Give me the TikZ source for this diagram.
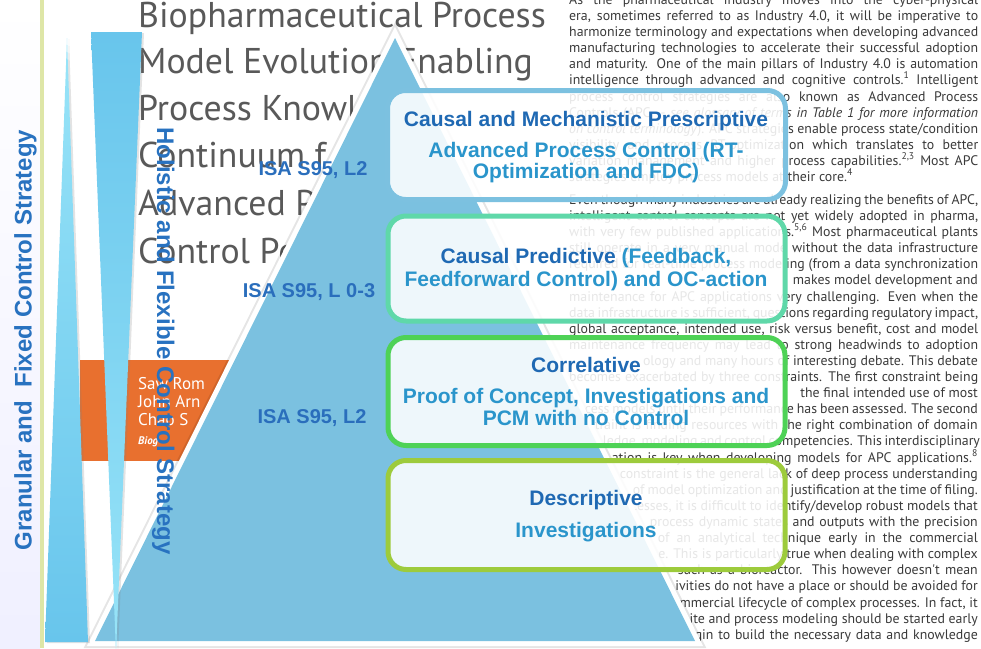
\documentclass[tikz,border=0pt]{standalone}
\usepackage{fontspec}
\setmainfont{Liberation Sans}
\newfontfamily\bodyfont{PT Sans}
\newfontfamily\titlefont{PT Sans}
\usetikzlibrary{shadows}
\definecolor{triblue}{HTML}{7BC1E0}
\definecolor{darkblue}{HTML}{1F69B3}
\definecolor{lightblue}{HTML}{2A95CB}
\definecolor{isablue}{HTML}{2A6EBC}
\definecolor{stratblue}{HTML}{2872C0}
\definecolor{prescline}{HTML}{7CC1E0}
\definecolor{predline}{HTML}{5FD8A9}
\definecolor{corrline}{HTML}{4ED256}
\definecolor{descline}{HTML}{9DCB3C}
\definecolor{bandorange}{HTML}{E8702F}
\definecolor{titlegray}{HTML}{595959}
\definecolor{textgray}{HTML}{3A3A3A}
\definecolor{leafline}{HTML}{DEE6A7}
\definecolor{palecyan}{HTML}{98E4F8}
\definecolor{midcyan}{HTML}{68C5EC}
\tikzset{levelbox/.style={draw=#1, line width=5pt, rounded corners=18pt, fill=white, fill opacity=0.88, draw opacity=1, inner sep=0pt},
  leveltitle/.style={anchor=base, inner sep=0pt, font=\bfseries\fontsize{21}{24}\selectfont, text=darkblue},
  leveltext/.style={anchor=base, inner sep=0pt, font=\bfseries\fontsize{21}{24}\selectfont, text=lightblue}}

\begin{document}
\begin{tikzpicture}[
        x=1pt, y=-1pt,
        isalabel/.style={anchor=base, inner sep=0pt, font=\bfseries\fontsize{20}{24}\selectfont, text=isablue},
        stratlabel/.style={anchor=base, inner sep=0pt, font=\bfseries\fontsize{24}{28}\selectfont, text=stratblue},
        artline/.style={anchor=base west, inner sep=0pt, font=\bodyfont\fontsize{13.85}{16}\selectfont, text=textgray},
        artfrag/.style={artline, anchor=base east},
        titleline/.style={anchor=base west, inner sep=0pt, font=\titlefont\fontsize{35.8}{40}\selectfont, text=titlegray},
        nameline/.style={anchor=base west, inner sep=0pt, font=\bodyfont\fontsize{17}{20}\selectfont, text=white},
        narrowtri/.style={drop shadow={shadow xshift=2pt, shadow yshift=-1pt, opacity=0.22}}
    ]
        \useasboundingbox (0,0) rectangle (981,648);
        % Page
        \fill[white] (0,0) rectangle (981,648);
        \shade[top color=white, bottom color=blue!6!white] (0,0) rectangle (40,648);
        \fill[leafline] (40,0) rectangle (43.5,648);
        % Title
        \foreach \y/\ttext in {
            27/{Biopharmaceutical Process},
            73/{Model Evolution Enabling},
            120/{Process Knowl},
            167/{Continuum f},
            215/{Advanced P},
            263/{Control Pe}} {
            \node[titleline] (title\y) at (138,\y) {\ttext};
        }
        % Authors
        \fill[bandorange] (80,360) rectangle (260,461);
        \node[nameline] (author1) at (138,389) {Saw Rom};
        \node[nameline] (author2) at (138,407) {John Arn};
        \node[nameline] (author3) at (138,425) {Chao S};
        \node[nameline, font=\bodyfont\bfseries\itshape\fontsize{11}{13}\selectfont] (bio) at (138,444) {Biog};
        % Article, full lines
        \foreach \y/\atext in {
            4/{As the pharmaceutical industry moves into the cyber-physical},
            20/{era, sometimes referred to as Industry 4.0, it will be imperative to},
            36/{harmonize terminology and expectations when developing advanced},
            52/{manufacturing technologies to accelerate their successful adoption},
            68/{and maturity. One of the main pillars of Industry 4.0 is automation},
            84/{intelligence through advanced and cognitive controls.\textsuperscript{1} Intelligent},
            101/{process control strategies are also known as Advanced Process},
            117/{Controls (APC -- \textit{see glossary of terms in Table 1 for more information}},
            133/{\textit{on control terminology}). APC strategies enable process state/condition},
            149/{visibility and process RT-optimization which translates to better},
            165/{variation management and higher process capabilities.\textsuperscript{2,3} Most APC},
            204/{Even though many industries are already realizing the benefits of APC,},
            220/{intelligent control concepts are not yet widely adopted in pharma,},
            236/{with very few published applications.\textsuperscript{5,6} Most pharmaceutical plants},
            252/{still operate in a very manual mode without the data infrastructure},
            268/{required for real-time process modeling (from a data synchronization},
            301/{maintenance for APC applications very challenging. Even when the},
            317/{data infrastructure is sufficient, questions regarding regulatory impact,},
            333/{global acceptance, intended use, risk versus benefit, cost and model},
            349/{maintenance frequency may lead to strong headwinds to adoption},
            381/{becomes exacerbated by three constraints. The first constraint being}} {
            \node[artline] (art\y) at (569,\y) {\makebox[409pt][s]{\atext}};
        }
        \node[artline] (art181) at (569,181) {strategies employ process models at their core.\textsuperscript{4}};
        % Article, justified lines running under the triangle
        \foreach \y/\w/\atext in {
            413/393/{cess models until their performance has been assessed. The second},
            429/383/{traint is finding resources with the right combination of domain},
            445/375/{ledge, modeling and control competencies. This interdisciplinary},
            462/366/{ation is key when developing models for APC applications.\textsuperscript{8}},
            478/358/{constraint is the general lack of deep process understanding},
            494/345/{of model optimization and justification at the time of filing.},
            526/328/{process dynamic states and outputs with the precision},
            542/320/{of an analytical technique early in the commercial},
            574/300/{such as a bioreactor. This however doesn't mean},
            639/283/{gin to build the necessary data and knowledge}} {
            \node[artfrag] (art\y) at (978,\y) {\makebox[\w pt][s]{\atext}};
        }
        \foreach \y/\atext in {
            284/{makes model development and},
            365/{ology and many hours of interesting debate. This debate},
            397/{the final intended use of most},
            510/{ocesses, it is difficult to identify/develop robust models that},
            558/{e. This is particularly true when dealing with complex},
            590/{ivities do not have a place or should be avoided for},
            607/{ommercial lifecycle of complex processes. In fact, it},
            623/{ite and process modeling should be started early}} {
            \node[artfrag] (art\y) at (978,\y) {\atext};
        }
        % Pyramid
        \coordinate (apex) at (395,38);
        \coordinate (baseL) at (95,641);
        \coordinate (baseR) at (695,641);
        \draw[line width=14pt, black, opacity=0.1, line join=miter] (apex) -- (baseR) -- (baseL) -- cycle;
        \draw[line width=10pt, white, line join=miter] (apex) -- (baseR) -- (baseL) -- cycle;
        \fill[triblue] (apex) -- (baseR) -- (baseL) -- cycle;
        % Strategy wedges
        \path[narrowtri, top color=palecyan, bottom color=midcyan] (67,38) -- (88,642) -- (45,642) -- cycle;
        \path[narrowtri, top color=midcyan, bottom color=palecyan] (91,32) -- (142,32) -- (116,652) -- cycle;
        \node[stratlabel, rotate=90] (granular) at (31.5,340) {Granular and\ \ Fixed Control Strategy};
        \node[stratlabel, rotate=-90] (holistic) at (157,341) {Holistic and Flexible Control Strategy};
        % Levels
        \node[levelbox=prescline, minimum width=398pt, minimum height=109pt] (prescriptive) at (586.5,145) {};
        \node[levelbox=predline, minimum width=397pt, minimum height=105pt] (predictive) at (586.5,268.5) {};
        \node[levelbox=corrline, minimum width=397pt, minimum height=108pt] (correlative) at (586.5,391.5) {};
        \node[levelbox=descline, minimum width=397pt, minimum height=109pt] (descriptive) at (586.5,515) {};
        \node[leveltitle] (presc-t) at (586,126) {Causal and Mechanistic Prescriptive};
        \node[leveltext] (presc-a) at (586,157) {Advanced Process Control (RT-};
        \node[leveltext] (presc-b) at (586,178.5) {Optimization and FDC)};
        \node[leveltext] (pred-a) at (586,263) {\textcolor{darkblue}{Causal Predictive} (Feedback,};
        \node[leveltext] (pred-b) at (586,286) {Feedforward Control) and OC-action};
        \node[leveltitle] (corr-t) at (586,372) {Correlative};
        \node[leveltext] (corr-a) at (586,403) {Proof of Concept, Investigations and};
        \node[leveltext] (corr-b) at (586,425) {PCM with no Control};
        \node[leveltitle] (desc-t) at (586,505) {Descriptive};
        \node[leveltext] (desc-a) at (586,537) {Investigations};
        % ISA levels
        \node[isalabel] (isa-top) at (313,175) {ISA S95, L2};
        \node[isalabel] (isa-mid) at (309,297) {ISA S95, L 0-3};
        \node[isalabel] (isa-low) at (312,423) {ISA S95, L2};
    \end{tikzpicture}
\end{document}
